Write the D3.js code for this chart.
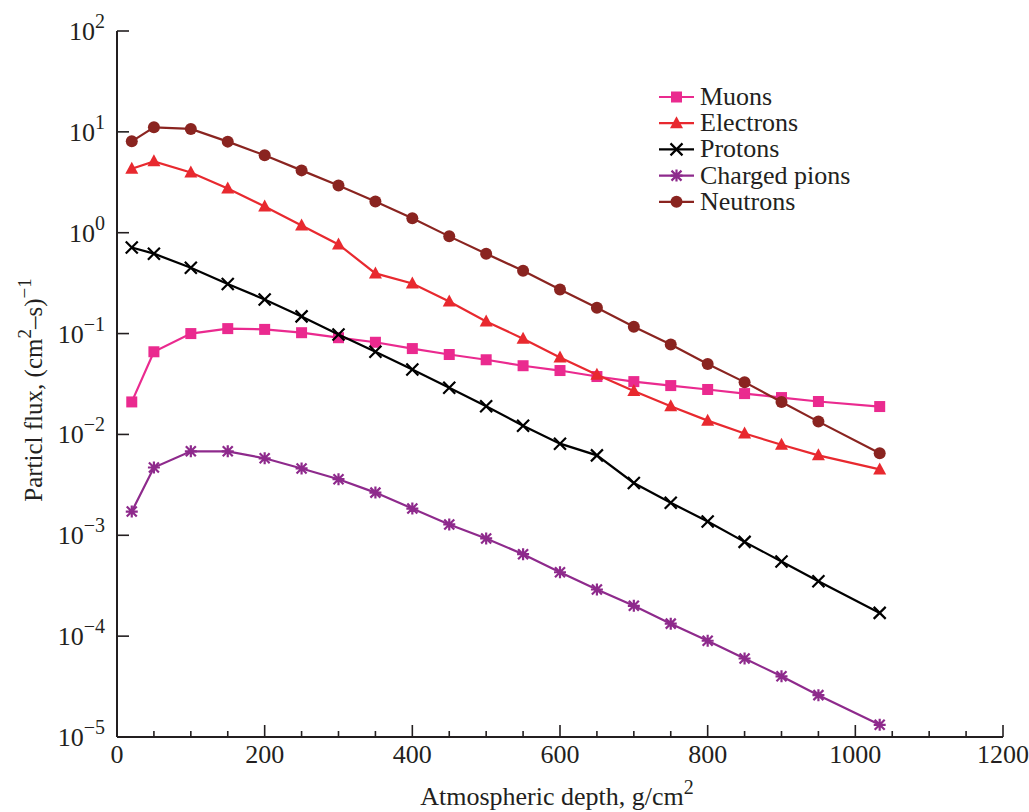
<!DOCTYPE html>
<html><head><meta charset="utf-8">
<script src="https://cdn.jsdelivr.net/npm/d3@7/dist/d3.min.js"></script>
<style>
body{margin:0;background:#fff;}
svg text{font-family:"Liberation Serif","DejaVu Serif","Times New Roman",serif;fill:#231f20;}
</style></head>
<body><svg id="c" width="1029" height="812"></svg>
<script>
const depth = [20,50,100,150,200,250,300,350,400,450,500,550,600,650,700,750,800,850,900,950,1033];
const muons = [0.021,0.066,0.100,0.112,0.110,0.102,0.091,0.082,0.071,0.062,0.055,0.048,0.043,0.0375,0.0334,0.0305,0.0279,0.0254,0.0232,0.0212,0.0189];
const electrons = [4.3,5.1,3.96,2.75,1.82,1.18,0.765,0.395,0.314,0.208,0.132,0.089,0.058,0.039,0.027,0.019,0.0137,0.0102,0.0079,0.0062,0.0045];
const protons = [0.714,0.62,0.45,0.31,0.218,0.148,0.098,0.066,0.044,0.029,0.019,0.0122,0.0081,0.0062,0.0033,0.0021,0.00137,0.00086,0.00055,0.00035,0.00017];
const pions = [0.00172,0.0047,0.0068,0.0068,0.0058,0.0046,0.0036,0.00265,0.00184,0.00128,0.00093,0.00065,0.00043,0.00029,0.0002,0.000133,0.00009,0.00006,0.00004,0.000026,0.0000132];
const neutrons = [8.05,11.1,10.7,8.0,5.85,4.15,2.94,2.04,1.39,0.92,0.62,0.42,0.274,0.18,0.117,0.078,0.05,0.033,0.021,0.0134,0.0065];
const seriesNames = ["Muons","Electrons","Protons","Charged pions","Neutrons"];
const seriesValues = [muons,electrons,protons,pions,neutrons];
const seriesColors = ["#ea2a8f","#e8292f","#000000","#8e2a8c","#8a2420"];
const seriesMarkers = ["square","triangle","x","asterisk","circle"];
const xTicks = [0,200,400,600,800,1000,1200];
const yExps = [2,1,0,-1,-2,-3,-4,-5];

const svg = d3.select("#c");
const L=117, R=1003, T=31, B=737;
const x = d3.scaleLinear().domain([0,1200]).range([L,R]);
const y = d3.scaleLog().domain([1e-5,1e2]).range([B,T]);
const axisColor="#231f20";

svg.append("line").attr("x1",L).attr("x2",L).attr("y1",T).attr("y2",B).attr("stroke",axisColor).attr("stroke-width",2);
svg.append("line").attr("x1",L).attr("x2",R).attr("y1",B).attr("y2",B).attr("stroke",axisColor).attr("stroke-width",2);

d3.range(0,1201,50).forEach(v=>{
  const major = v%200===0;
  svg.append("line").attr("x1",x(v)).attr("x2",x(v)).attr("y1",B).attr("y2",B-(major?12:6))
    .attr("stroke",axisColor).attr("stroke-width",1.6);
});
xTicks.forEach(v=>{
  svg.append("text").attr("x",x(v)).attr("y",B+26).attr("text-anchor","middle")
    .attr("font-size",26).text(v);
});
yExps.forEach(e=>{
  const yy=y(Math.pow(10,e));
  svg.append("line").attr("x1",L).attr("x2",L+12).attr("y1",yy).attr("y2",yy).attr("stroke",axisColor).attr("stroke-width",1.6);
  const t=svg.append("text").attr("x",105).attr("y",yy+9).attr("text-anchor","end").attr("font-size",26);
  t.append("tspan").text("10");
  t.append("tspan").attr("dy",-12).attr("font-size",20).text(e<0?"\u2212"+(-e):String(e));
});

const xl=svg.append("text").attr("x",557).attr("y",805).attr("text-anchor","middle").attr("font-size",26);
xl.append("tspan").text("Atmospheric depth, g/cm");
xl.append("tspan").attr("dy",-11).attr("font-size",20).text("2");
const yl=svg.append("text").attr("transform","translate(42,390) rotate(-90)").attr("text-anchor","middle").attr("font-size",25);
yl.append("tspan").text("Particl flux, (cm");
yl.append("tspan").attr("dy",-11).attr("font-size",19).text("2");
yl.append("tspan").attr("dy",11).text("\u2013s)");
yl.append("tspan").attr("dy",-11).attr("font-size",19).text("\u22121");

function drawMarker(g,type,cx,cy,color){
  if(type==="square"){
    g.append("rect").attr("x",cx-5.5).attr("y",cy-5.5).attr("width",11).attr("height",11).attr("fill",color);
  } else if(type==="triangle"){
    g.append("path").attr("d",`M${cx},${cy-7}L${cx+6.5},${cy+5}L${cx-6.5},${cy+5}Z`).attr("fill",color);
  } else if(type==="circle"){
    g.append("circle").attr("cx",cx).attr("cy",cy).attr("r",6).attr("fill",color);
  } else if(type==="x"){
    g.append("path").attr("d",`M${cx-6},${cy-6}L${cx+6},${cy+6}M${cx-6},${cy+6}L${cx+6},${cy-6}`).attr("stroke",color).attr("stroke-width",2.2);
  } else if(type==="asterisk"){
    g.append("path").attr("d",`M${cx-5},${cy-5}L${cx+5},${cy+5}M${cx-5},${cy+5}L${cx+5},${cy-5}M${cx},${cy-6}L${cx},${cy+6}M${cx-6},${cy}L${cx+6},${cy}`).attr("stroke",color).attr("stroke-width",2.2);
  }
}

const line = d3.line().x(d=>x(d[0])).y(d=>y(d[1]));
seriesValues.forEach((vals,i)=>{
  const data = depth.map((d,j)=>[d,vals[j]]);
  const g=svg.append("g");
  g.append("path").attr("d",line(data)).attr("fill","none").attr("stroke",seriesColors[i]).attr("stroke-width",2.2);
  data.forEach(d=>drawMarker(g,seriesMarkers[i],x(d[0]),y(d[1]),seriesColors[i]));
});

seriesNames.forEach((n,i)=>{
  const ly=97+i*26.2;
  const g=svg.append("g");
  g.append("line").attr("x1",659).attr("x2",694).attr("y1",ly).attr("y2",ly).attr("stroke",seriesColors[i]).attr("stroke-width",2.2);
  drawMarker(g,seriesMarkers[i],676.5,ly,seriesColors[i]);
  g.append("text").attr("x",700).attr("y",ly+8).attr("font-size",26).text(n);
});
</script></body></html>
